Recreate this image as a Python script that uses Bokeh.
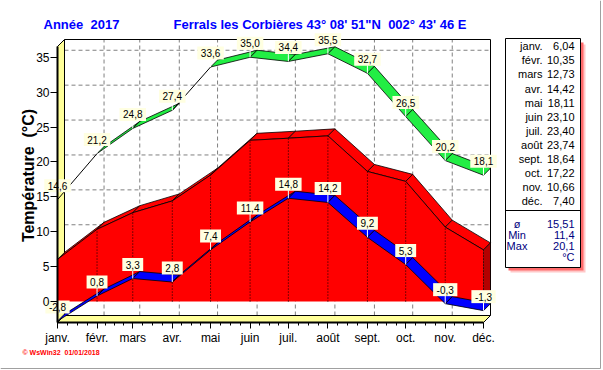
import math
from bokeh.plotting import figure
from bokeh.models import Range1d, FixedTicker, Label
from bokeh.embed import file_html
from bokeh.resources import INLINE
from bokeh.core.properties import value

# ---------------- data ----------------
months = ["janv.", "févr.", "mars", "avr.", "mai", "juin", "juil.", "août",
          "sept.", "oct.", "nov.", "déc."]
month_day = [0, 31, 59, 90, 120, 151, 181, 212, 243, 273, 304, 334]
t_mean = [6.04, 10.35, 12.73, 14.42, 18.11, 23.10, 23.40, 23.74, 18.64, 17.22, 10.66, 7.40]
t_max = [14.6, 21.2, 24.8, 27.4, 33.6, 35.0, 34.4, 35.5, 32.7, 26.5, 20.2, 18.1]
t_min = [-2.8, 0.8, 3.3, 2.8, 7.4, 11.4, 14.8, 14.2, 9.2, 5.3, -0.3, -1.3]
y_ticks = [0, 5, 10, 15, 20, 25, 30, 35]
summary_names = ["ø", "Min", "Max"]
summary_values = ["15,51", "11,4", "20,1"]
unit_text = "°C"
NB = "\u00a0"
title_left = "Année" + NB + NB + "2017"
title_right = "Ferrals les Corbières 43° 08' 51\"N" + NB + NB + "002° 43' 46 E"
y_title = "Température" + NB + NB + "(°C)"
footer = "© WsWin32" + NB + NB + "01/01/2018"

def fr(v, nd=1):
    return f"{v:.{nd}f}".replace(".", ",")

# ---------------- geometry (page pixels) ----------------
FONT = "Liberation Sans"
OX, OY = 0, 0                   # page position of the canvas
W, H = 603, 370
PAGE_L, PAGE_B = 57, 322        # page position of (day 0, -3 degC), front corner
DEPTH = 7                       # 3D depth in px
X0, X1 = month_day[0], month_day[-1]
PXD = 426 / (X1 - X0)           # px per day
PPD = 6.98                      # px per degree
Y0 = -3.0
YF_TOP = Y0 + 276 / PPD
DX = DEPTH / PXD
DY = DEPTH / PPD

def X(px):
    return (px - PAGE_L) / PXD + X0

def Y(py):
    return Y0 + (PAGE_B - py) / PPD

p = figure(width=W, height=H, x_range=Range1d(X(OX), X(OX + W)), y_range=Range1d(Y(OY + H), Y(OY)),
           output_backend="svg", toolbar_location=None, min_border=0)
p.background_fill_color = "white"
p.border_fill_color = "white"
p.outline_line_color = None
p.xgrid.visible = False
p.ygrid.visible = False

minor = []
for i in range(len(month_day) - 1):
    a, b = month_day[i], month_day[i + 1]
    minor += [a + k * (b - a) / 4 for k in range(1, 4)]

xa = p.xaxis[0]
xa.fixed_location = Y0
xa.bounds = (X0, X1)
xa.ticker = FixedTicker(ticks=month_day, minor_ticks=minor)
xa.major_label_overrides = {d: m for d, m in zip(month_day, months)}
xa.major_label_text_font = FONT
xa.major_label_text_font_size = "12px"
xa.major_label_text_color = "black"
xa.major_tick_out = 6
xa.major_tick_in = 0
xa.minor_tick_out = 3
xa.minor_tick_in = 0
xa.axis_line_width = 2
xa.major_label_standoff = 2

ya = p.yaxis[0]
ya.fixed_location = X0
ya.bounds = (Y0, YF_TOP)
ya.ticker = FixedTicker(ticks=y_ticks)
ya.major_label_text_font = FONT
ya.major_label_text_font_size = "12px"
ya.major_label_text_color = "black"
ya.major_tick_out = 7
ya.major_tick_in = 0
ya.minor_tick_out = 0
ya.minor_tick_in = 0
ya.axis_line_width = 2
ya.major_label_standoff = 1

# back wall grid + border
gx = [[X0 + DX, X1 + DX] for v in y_ticks]
gy = [[v + DY, v + DY] for v in y_ticks]
p.multi_line(gx, gy, line_color="#808080", line_dash="4 3", line_width=1)
vx = [[d + DX, d + DX] for d in month_day[1:-1]]
vy = [[Y0 + DY, YF_TOP + DY] for d in month_day[1:-1]]
p.multi_line(vx, vy, line_color="#808080", line_dash="4 3", line_width=1)
p.line([X0 + DX, X1 + DX, X1 + DX], [YF_TOP + DY, YF_TOP + DY, Y0 + DY],
       line_color="black", line_width=1)

# left wall and floor
p.patch([X0, X0, X0 + DX, X0 + DX], [Y0, YF_TOP, YF_TOP + DY, Y0 + DY],
        fill_color="#FFFF99", line_color="black", line_width=1)
p.patch([X0, X1, X1 + DX, X0 + DX], [Y0, Y0, Y0 + DY, Y0 + DY],
        fill_color="#FFFF99", line_color="black", line_width=1)

# red 3D area (monthly mean)
n = len(month_day)
tq_x = [[month_day[i], month_day[i + 1], month_day[i + 1] + DX, month_day[i] + DX] for i in range(n - 1)]
tq_y = [[t_mean[i], t_mean[i + 1], t_mean[i + 1] + DY, t_mean[i] + DY] for i in range(n - 1)]
p.patches(tq_x, tq_y, fill_color="#FF0000", line_color="black", line_width=0.8)
p.patch([X1, X1, X1 + DX, X1 + DX], [0, t_mean[-1], t_mean[-1] + DY, DY],
        fill_color="#B40000", line_color="black", line_width=0.8)
p.patch([month_day[0]] + month_day + [month_day[-1]], [0] + t_mean + [0],
        fill_color="#FF0000", line_color=None)
p.line(month_day, t_mean, line_color="black", line_width=0.8)
p.multi_line([[d, d] for d in month_day[1:]], [[0, v] for v in t_mean[1:]],
             line_color="black", line_dash="1 2", line_width=1)

# ribbons
def ribbon(vals, color):
    fx, fy, lx, ly = [], [], [], []
    for i in range(len(vals) - 1):
        x0, x1 = month_day[i], month_day[i + 1]
        y0, y1 = vals[i], vals[i + 1]
        s = (y1 - y0) * PPD / ((x1 - x0) * PXD)
        if s < 1:
            fx.append([x0, x1, x1 + DX, x0 + DX])
            fy.append([y0, y1, y1 + DY, y0 + DY])
        else:
            lx.append([x0, x1])
            ly.append([y0, y1])
    if fx:
        p.patches(fx, fy, fill_color=color, line_color="black", line_width=0.8)
    if lx:
        p.multi_line(lx, ly, line_color="black", line_width=1)

ribbon(t_min, "#0000FF")
ribbon(t_max, "#22EE44")

# value labels (tooltip-like boxes)
CW = {",": 2.78, "-": 3.33}
def text_w(s):
    return sum(CW.get(c, 5.56) for c in s)

LBL_OFF = 14 / PPD
for vals in (t_min, t_max):
    txt = [fr(v) for v in vals]
    p.multi_line([[d, d] for d in month_day], [[v, v + 8 / PPD] for v in vals],
                 line_color="white", line_width=1)
    p.rect(x=month_day, y=[v + LBL_OFF for v in vals],
           width=[text_w(t) + 7 for t in txt], height=13,
           width_units="screen", height_units="screen",
           fill_color="#FFFFE1", line_color=None)
    p.text(x=month_day, y=[v + LBL_OFF for v in vals], text=txt,
           text_align="center", text_baseline="middle",
           text_font=value(FONT), text_font_size="10px", text_color="black")

# titles etc.
p.add_layout(Label(x=X(43), y=Y(24), text=title_left, text_font=FONT, text_font_size="13px",
                   text_font_style="bold", text_color="#0000FF", text_baseline="middle"))
p.add_layout(Label(x=X(173), y=Y(24), text=title_right, text_font=FONT, text_font_size="13px",
                   text_font_style="bold", text_color="#0000FF", text_baseline="middle"))
p.add_layout(Label(x=X(28), y=Y(175), text=y_title, text_font=FONT, text_font_size="16px",
                   text_font_style="bold", text_color="black", angle=math.pi / 2,
                   text_align="center", text_baseline="middle"))
p.add_layout(Label(x=X(22), y=Y(352), text=footer, text_font=FONT, text_font_size="7px",
                   text_font_style="bold", text_color="#FF0000", text_baseline="middle"))

# ---------------- legend box ----------------
BL, BR, BT, BB = 505, 580, 38, 267
p.quad(left=X(BL + 5), right=X(BR + 5), top=Y(BT + 6), bottom=Y(BB + 5),
       fill_color="#FFC8C8", line_color=None)
p.quad(left=X(BL + 3), right=X(BR + 3), top=Y(BT + 4), bottom=Y(BB + 3),
       fill_color="#FF6A6A", line_color=None)
p.quad(left=X(BL), right=X(BR), top=Y(BT), bottom=Y(BB),
       fill_color="white", line_color="black", line_width=1)
p.line([X(BL), X(BR)], [Y(210), Y(210)], line_color="black", line_width=1)

rows_y = [Y(45.7 + 14.1 * i) for i in range(len(months))]
p.text(x=[X(542)] * len(months), y=rows_y, text=months, text_align="right",
       text_baseline="middle", text_font=value(FONT), text_font_size="11px", text_color="black")
p.text(x=[X(574)] * len(months), y=rows_y, text=[fr(v, 2) for v in t_mean], text_align="right",
       text_baseline="middle", text_font=value(FONT), text_font_size="11px", text_color="black")
sy = [Y(223), Y(234), Y(245)]
p.text(x=[X(516.5)] * 3, y=sy, text=summary_names, text_align="center", text_baseline="middle",
       text_font=value(FONT), text_font_size="11px", text_color="#000080")
p.text(x=[X(574)] * 4, y=sy + [Y(256)], text=summary_values + [unit_text], text_align="right",
       text_baseline="middle", text_font=value(FONT), text_font_size="11px", text_color="#000080")

# window frame lines (grey) at right and bottom edges
p.line([X(600), X(600)], [Y(0), Y(368)], line_color="#A0A0A0", line_width=1)
p.line([X(0), X(600)], [Y(368), Y(368)], line_color="#A0A0A0", line_width=1)

open("out.html", "w").write(file_html(p, INLINE))
